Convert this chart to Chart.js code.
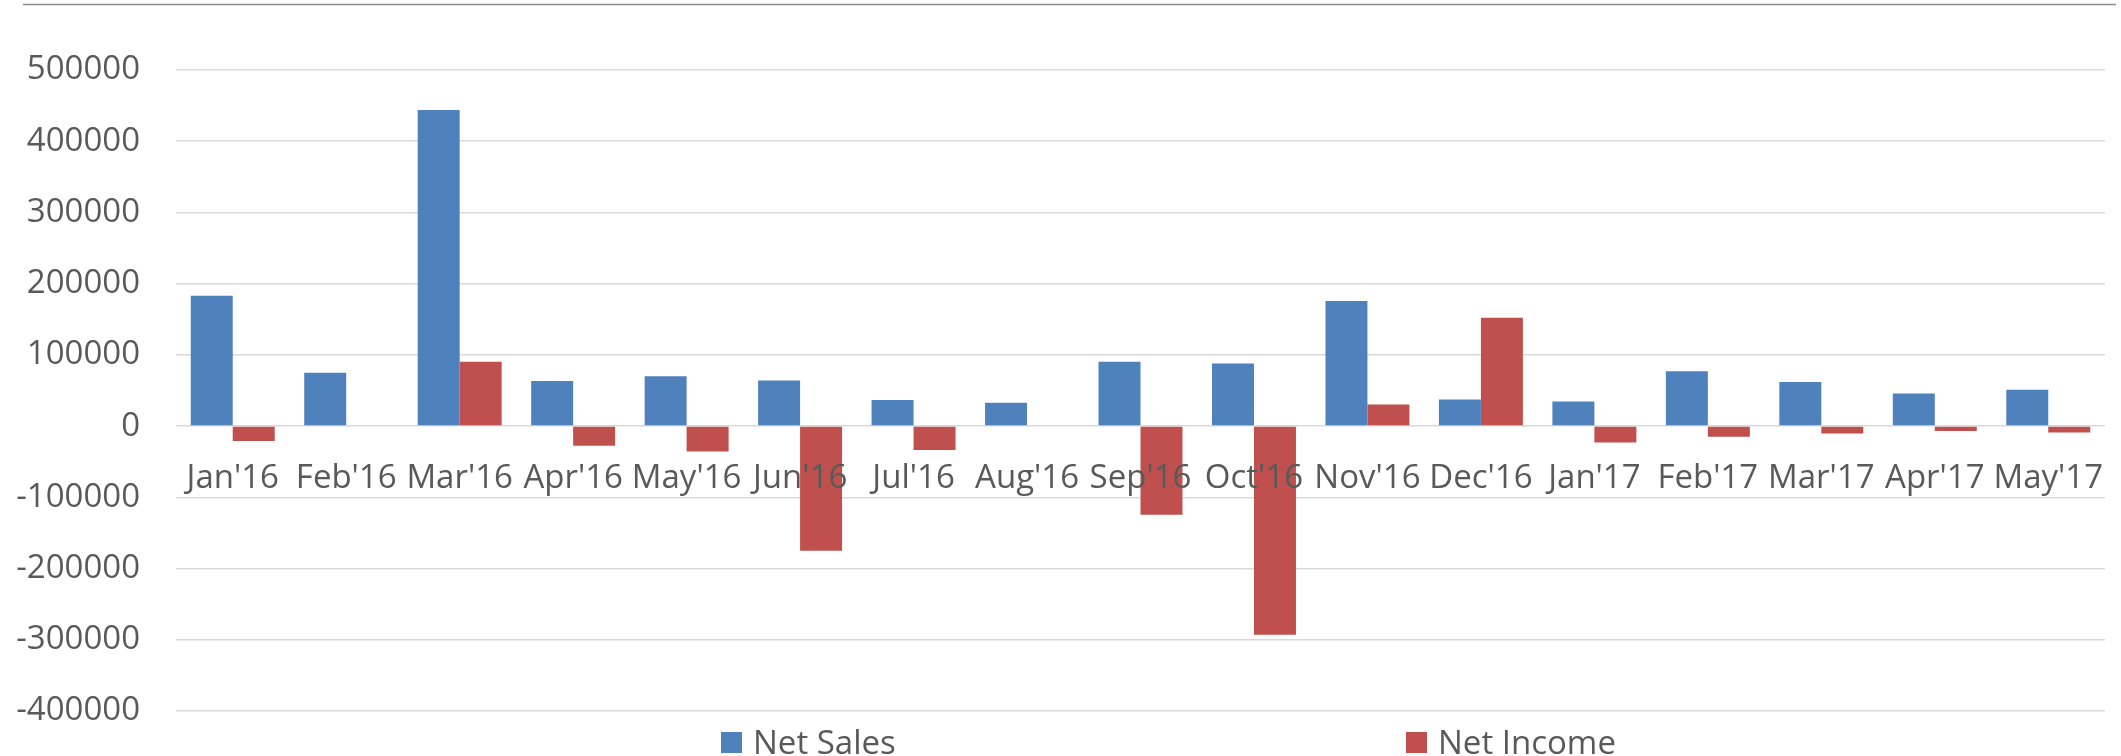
<!DOCTYPE html>
<html>
<head>
<meta charset="utf-8">
<script src="https://cdn.jsdelivr.net/npm/chart.js@4.4.1/dist/chart.umd.min.js"></script>
<style>
  html, body { margin: 0; padding: 0; background: #ffffff; overflow: hidden; }
  canvas { display: block; }
</style>
</head>
<body>
<canvas id="c" width="2121" height="756"></canvas>
<script>
// ---- data ----
const categories = ["Jan'16", "Feb'16", "Mar'16", "Apr'16", "May'16", "Jun'16", "Jul'16", "Aug'16",
  "Sep'16", "Oct'16", "Nov'16", "Dec'16", "Jan'17", "Feb'17", "Mar'17", "Apr'17", "May'17"];
const netSales = [183000, 75000, 444000, 63500, 70000, 64000, 36500, 32700,
  90400, 88000, 175600, 37500, 34700, 77200, 61800, 45900, 51100];
const netIncome = [-21000, 0, 90200, -27600, -35600, -174900, -33700, 0,
  -124400, -293000, 30500, 152000, -23000, -15000, -10400, -6800, -9000];
const seriesNames = ["Net Sales", "Net Income"];
const yTickValues = [500000, 400000, 300000, 200000, 100000, 0, -100000, -200000, -300000, -400000];

// ---- styles ----
const FONT = "'Open Sans', 'Liberation Sans', sans-serif";
const TEXT = '#595959';
const COLORS = ['#4F81BD', '#C0504D'];

const decor = {
  id: 'decor',
  beforeDraw(chart) {
    const ctx = chart.ctx;
    ctx.save();
    ctx.fillStyle = '#ffffff';
    ctx.fillRect(0, 0, chart.width, chart.height);
    ctx.strokeStyle = '#8c8c8c';
    ctx.lineWidth = 1.5;
    ctx.beginPath();
    ctx.moveTo(23, 4.5);
    ctx.lineTo(2116, 4.5);
    ctx.stroke();
    ctx.restore();
  },
  afterDraw(chart) {
    const ctx = chart.ctx;
    const xs = [721, 1406];
    ctx.save();
    ctx.font = '33px ' + FONT;
    ctx.textBaseline = 'alphabetic';
    ctx.textAlign = 'left';
    chart.data.datasets.forEach((ds, i) => {
      ctx.fillStyle = ds.backgroundColor;
      ctx.fillRect(xs[i], 732, 21, 21);
      ctx.fillStyle = TEXT;
      ctx.fillText(ds.label, xs[i] + 32, 754);
    });
    ctx.restore();
  }
};

new Chart(document.getElementById('c'), {
  type: 'bar',
  data: {
    labels: categories,
    datasets: [
      { label: seriesNames[0], data: netSales, backgroundColor: COLORS[0], borderWidth: 0 },
      { label: seriesNames[1], data: netIncome, backgroundColor: COLORS[1], borderWidth: 0 }
    ]
  },
  options: {
    responsive: false,
    animation: false,
    devicePixelRatio: 1,
    layout: { padding: { top: 70, right: 16, bottom: 45, left: 0 } },
    datasets: { bar: { categoryPercentage: 0.74, barPercentage: 1.0 } },
    plugins: {
      legend: { display: false },
      tooltip: { enabled: false },
      title: { display: false }
    },
    scales: {
      x: {
        position: { y: 0 },
        afterFit(scale) {
          scale.height = 0;
          scale.paddingLeft = 0;
          scale.paddingRight = 0;
        },
        grid: { display: false, drawTicks: false },
        border: { display: false },
        ticks: {
          z: 1,
          autoSkip: false, maxRotation: 0, minRotation: 0,
          padding: 33,
          color: TEXT,
          font: { family: FONT, size: 33 }
        }
      },
      y: {
        min: -400000,
        max: 500000,
        afterFit(scale) {
          scale.width = 176;
          scale.paddingTop = 0;
          scale.paddingBottom = 0;
        },
        afterBuildTicks(scale) { scale.ticks = yTickValues.map(v => ({ value: v })); },
        grid: { color: '#d9d9d9', lineWidth: 1.5, drawTicks: false },
        border: { display: false },
        ticks: {
          padding: 36,
          color: TEXT,
          font: { family: FONT, size: 33 },
          callback: v => String(v)
        }
      }
    }
  },
  plugins: [decor]
});
</script>
</body>
</html>
